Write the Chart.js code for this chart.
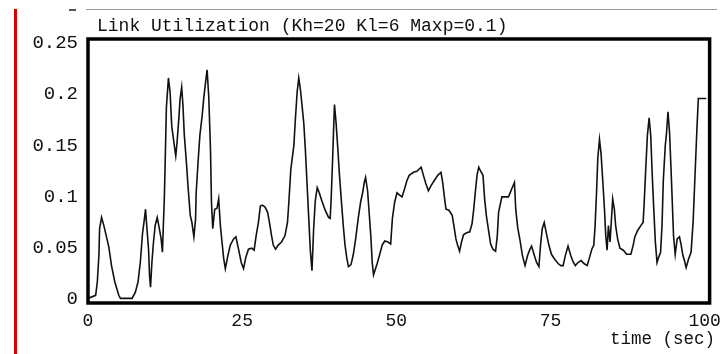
<!DOCTYPE html>
<html>
<head>
<meta charset="utf-8">
<script src="https://cdn.jsdelivr.net/npm/chart.js@4/dist/chart.umd.min.js"></script>
<style>
  html, body { margin: 0; padding: 0; background: #fff; }
  #wrap { width: 728px; height: 354px; position: relative; }
</style>
</head>
<body>
<div id="wrap"><canvas id="chart-link-util" width="728" height="354"></canvas></div>
<script>
const chartTitle = 'Link Utilization (Kh=20 Kl=6 Maxp=0.1)';
const xAxisLabel = 'time (sec)';

const xTickValues = [0, 25, 50, 75, 100];
const xTickLabels = ['0', '25', '50', '75', '100'];
const yTickValues = [0, 0.05, 0.1, 0.15, 0.2, 0.25];
const yTickLabels = ['0', '0.05', '0.1', '0.15', '0.2', '0.25'];

// time (sec) / utilization
const timeSec = [
  0, 0.16, 1.24, 1.51, 1.77, 1.88, 2.2, 2.57, 2.96, 3.38, 3.81, 4.35, 4.99, 5.26, 7.15, 7.68,
  8.11, 8.48, 8.85, 9.12, 9.33, 9.56, 9.82, 9.98, 10.14, 10.36, 10.62, 10.89, 11.22, 11.54, 11.86, 12.07,
  12.23, 12.39, 12.5, 12.71, 13.04, 13.31, 13.58, 14.0, 14.23, 14.44, 14.76, 14.92, 15.19, 15.4, 15.61, 16.0,
  16.25, 16.58, 16.85, 17.17, 17.44, 17.54, 17.86, 18.14, 18.51, 18.78, 19.05, 19.31, 19.58, 19.86, 20.02, 20.23,
  20.55, 20.92, 21.19, 21.47, 21.73, 22.0, 22.27, 22.69, 23.08, 23.61, 23.98, 24.41, 24.85, 25.22, 25.59, 26.02,
  26.55, 26.94, 27.26, 27.63, 27.95, 28.28, 28.71, 29.13, 29.51, 29.77, 30.04, 30.42, 30.85, 31.38, 31.93, 32.35,
  32.57, 32.89, 33.38, 33.63, 33.91, 34.18, 34.44, 34.71, 34.99, 35.24, 35.51, 35.79, 36.05, 36.32, 36.59, 36.85,
  37.17, 37.5, 37.93, 38.46, 39.01, 39.27, 39.43, 39.65, 39.86, 39.97, 40.23, 40.51, 40.78, 41.15, 41.42, 41.68,
  41.95, 42.23, 42.65, 43.03, 43.4, 43.84, 44.21, 44.53, 44.8, 45.01, 45.34, 45.61, 45.86, 46.09, 46.3, 46.62,
  46.94, 47.31, 47.7, 48.12, 48.66, 49.08, 49.36, 49.73, 50.11, 50.48, 50.92, 51.34, 51.72, 52.09, 52.78, 53.33,
  54.02, 54.39, 54.78, 55.2, 55.63, 56.16, 56.71, 57.24, 57.52, 57.77, 58.05, 58.53, 59.06, 59.38, 59.66, 59.93,
  60.25, 60.57, 60.89, 61.38, 61.91, 62.28, 62.55, 62.83, 63.08, 63.36, 63.68, 64.05, 64.32, 64.59, 64.96, 65.29,
  65.66, 66.09, 66.37, 66.58, 67.11, 68.18, 68.72, 69.15, 69.36, 69.68, 70.07, 70.44, 70.87, 71.29, 71.68, 71.93,
  72.37, 72.74, 73.12, 73.38, 73.66, 73.98, 74.35, 74.73, 75.15, 75.7, 76.23, 76.67, 77.04, 77.41, 77.84, 78.27,
  78.64, 79.02, 79.45, 79.98, 80.42, 80.95, 81.33, 81.7, 82.02, 82.23, 82.46, 82.67, 82.94, 83.2, 83.47, 83.75,
  83.96, 84.17, 84.39, 84.65, 84.92, 85.08, 85.35, 85.56, 85.88, 86.26, 86.81, 87.34, 88.03, 88.41, 88.67, 89.11,
  89.64, 90.02, 90.18, 90.44, 90.71, 90.99, 91.25, 91.47, 91.73, 92.0, 92.27, 92.53, 92.85, 93.08, 93.29, 93.61,
  93.82, 94.05, 94.3, 94.53, 94.74, 94.95, 95.22, 95.54, 95.91, 96.19, 96.46, 96.72, 96.99, 97.36, 97.79, 98.12,
  98.44, 98.76, 98.97, 100.26
];
const utilization = [
  0.001, 0.001, 0.004, 0.017, 0.043, 0.069, 0.080, 0.072, 0.062, 0.051, 0.033, 0.017, 0.004, 0.001, 0.001, 0.007,
  0.017, 0.036, 0.065, 0.077, 0.088, 0.069, 0.049, 0.023, 0.012, 0.036, 0.056, 0.072, 0.080, 0.070, 0.059, 0.046,
  0.074, 0.101, 0.130, 0.187, 0.216, 0.202, 0.169, 0.150, 0.140, 0.153, 0.179, 0.195, 0.207, 0.189, 0.161, 0.130,
  0.108, 0.082, 0.075, 0.061, 0.078, 0.104, 0.135, 0.160, 0.179, 0.197, 0.211, 0.224, 0.198, 0.147, 0.095, 0.069,
  0.088, 0.089, 0.098, 0.072, 0.056, 0.040, 0.030, 0.043, 0.053, 0.059, 0.061, 0.049, 0.036, 0.030, 0.041, 0.049,
  0.050, 0.048, 0.062, 0.075, 0.091, 0.092, 0.090, 0.085, 0.072, 0.062, 0.053, 0.049, 0.053, 0.056, 0.062, 0.075,
  0.095, 0.127, 0.150, 0.176, 0.202, 0.216, 0.205, 0.189, 0.172, 0.147, 0.114, 0.080, 0.048, 0.028, 0.069, 0.096,
  0.109, 0.104, 0.096, 0.087, 0.080, 0.079, 0.098, 0.134, 0.172, 0.190, 0.172, 0.147, 0.121, 0.091, 0.070, 0.053,
  0.041, 0.032, 0.034, 0.044, 0.059, 0.080, 0.095, 0.104, 0.114, 0.119, 0.106, 0.083, 0.062, 0.036, 0.024, 0.030,
  0.036, 0.044, 0.053, 0.057, 0.056, 0.054, 0.079, 0.095, 0.104, 0.102, 0.100, 0.108, 0.116, 0.121, 0.124, 0.125,
  0.129, 0.121, 0.113, 0.106, 0.111, 0.116, 0.121, 0.124, 0.114, 0.101, 0.088, 0.087, 0.082, 0.070, 0.059, 0.053,
  0.047, 0.056, 0.063, 0.065, 0.066, 0.074, 0.088, 0.106, 0.121, 0.129, 0.125, 0.121, 0.098, 0.082, 0.067, 0.054,
  0.049, 0.047, 0.062, 0.085, 0.100, 0.100, 0.108, 0.114, 0.088, 0.070, 0.057, 0.043, 0.033, 0.043, 0.049, 0.052,
  0.043, 0.036, 0.032, 0.053, 0.069, 0.075, 0.064, 0.053, 0.044, 0.039, 0.035, 0.033, 0.033, 0.043, 0.052, 0.043,
  0.037, 0.033, 0.036, 0.038, 0.035, 0.033, 0.041, 0.049, 0.053, 0.072, 0.104, 0.138, 0.156, 0.142, 0.116, 0.088,
  0.062, 0.048, 0.072, 0.056, 0.082, 0.098, 0.088, 0.072, 0.059, 0.050, 0.048, 0.044, 0.044, 0.053, 0.061, 0.067,
  0.072, 0.075, 0.093, 0.127, 0.160, 0.177, 0.160, 0.125, 0.090, 0.056, 0.036, 0.041, 0.046, 0.072, 0.116, 0.150,
  0.163, 0.183, 0.163, 0.129, 0.096, 0.062, 0.044, 0.059, 0.061, 0.053, 0.043, 0.038, 0.031, 0.039, 0.046, 0.075,
  0.122, 0.169, 0.196, 0.196
];

const FONT = "'Liberation Mono', 'DejaVu Sans Mono', monospace";

// frame, title, axis label and the bits of the cropped window around the plot
const xgraphDecor = {
  id: 'xgraphDecor',
  beforeDraw(chart) {
    const { ctx } = chart;
    ctx.save();
    ctx.fillStyle = '#fff';
    ctx.fillRect(0, 0, chart.width, chart.height);
    ctx.restore();
  },
  afterDraw(chart) {
    const { ctx, chartArea: a } = chart;
    ctx.save();
    ctx.strokeStyle = '#d40000';
    ctx.lineWidth = 3;
    ctx.beginPath();
    ctx.moveTo(15.5, 9);
    ctx.lineTo(15.5, chart.height);
    ctx.stroke();

    ctx.strokeStyle = '#9a9a9a';
    ctx.lineWidth = 1;
    ctx.beginPath();
    ctx.moveTo(86, 9.5);
    ctx.lineTo(717, 9.5);
    ctx.stroke();

    ctx.strokeStyle = '#555';
    ctx.lineWidth = 2;
    ctx.beginPath();
    ctx.moveTo(69, 10);
    ctx.lineTo(76, 10);
    ctx.stroke();

    ctx.strokeStyle = '#000';
    ctx.lineWidth = 3.5;
    ctx.strokeRect(a.left, a.top, a.right - a.left, a.bottom - a.top);

    ctx.fillStyle = '#111';
    ctx.textBaseline = 'alphabetic';
    ctx.textAlign = 'left';
    ctx.font = `18px ${FONT}`;
    ctx.fillText(chartTitle, 97, 31);
    ctx.textAlign = 'right';
    ctx.font = `17.5px ${FONT}`;
    ctx.fillText(xAxisLabel, 715, 344);
    ctx.restore();
  },
};

const ctx = document.getElementById('chart-link-util').getContext('2d');
new Chart(ctx, {
  type: 'line',
  data: {
    datasets: [{
      data: timeSec.map((t, i) => ({ x: t, y: utilization[i] })),
      borderColor: '#111',
      borderWidth: 1.6,
      pointRadius: 0,
      tension: 0,
      fill: false,
    }],
  },
  options: {
    responsive: false,
    animation: false,
    devicePixelRatio: 1,
    layout: { padding: { top: 39, right: 14, left: 0, bottom: 0 } },
    plugins: { legend: { display: false }, tooltip: { enabled: false }, title: { display: false } },
    scales: {
      x: {
        type: 'linear',
        min: 0,
        max: 100.8,
        grid: { display: false, drawTicks: false },
        border: { display: false },
        afterBuildTicks: (scale) => { scale.ticks = xTickValues.map((v) => ({ value: v })); },
        afterFit: (scale) => { scale.height = 51; },
        ticks: {
          color: '#111', padding: 7, maxRotation: 0, autoSkip: false,
          font: { family: FONT, size: 18 },
          callback: (value) => xTickLabels[xTickValues.indexOf(value)],
        },
      },
      y: {
        min: -0.0035,
        max: 0.254,
        grid: { display: false, drawTicks: false },
        border: { display: false },
        afterBuildTicks: (scale) => { scale.ticks = yTickValues.map((v) => ({ value: v })); },
        afterFit: (scale) => { scale.width = 88; },
        ticks: {
          color: '#111', padding: 10, autoSkip: false,
          font: { family: FONT, size: 19 },
          callback: (value) => yTickLabels[yTickValues.indexOf(value)],
        },
      },
    },
  },
  plugins: [xgraphDecor],
});
</script>
</body>
</html>
